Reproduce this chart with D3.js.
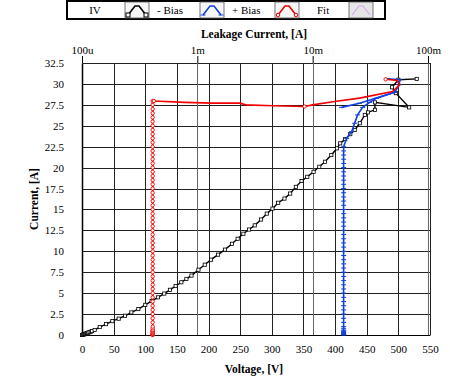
<!DOCTYPE html>
<html>
<head>
<meta charset="utf-8">
<script src="https://cdn.jsdelivr.net/npm/d3@7"></script>
<style>
  body { margin: 0; background: #fff; }
  svg, svg text { font-family: "Liberation Serif", "Times New Roman", serif; }
  svg { display: block; }
</style>
</head>
<body>
<svg width="450" height="380"></svg>
<script>
// IV sweep (bottom axis: voltage)
const ivVolt = [0, 1, 2, 3, 4, 5, 6, 7, 8, 9, 10, 12, 14, 16, 20, 28, 38, 48, 58, 68, 78, 89, 100, 110, 120, 130, 139, 148, 157, 165, 173, 184, 194, 204, 215, 226, 237, 246, 255, 264, 273, 283, 292, 301, 310, 320, 329, 338, 347, 356, 366, 375, 384, 394, 403, 408, 416, 424, 431, 439, 447, 452, 463, 463, 517, 496, 490, 500, 529];
const ivCurr = [0, 0.02, 0.05, 0.08, 0.1, 0.13, 0.16, 0.19, 0.22, 0.25, 0.28, 0.34, 0.4, 0.47, 0.6, 0.95, 1.3, 1.65, 1.95, 2.3, 2.7, 3.1, 3.6, 4.05, 4.5, 4.95, 5.4, 5.85, 6.3, 6.7, 7.1, 7.8, 8.4, 9.0, 9.6, 10.2, 10.9, 11.5, 12.1, 12.6, 13.1, 13.8, 14.5, 15.1, 15.8, 16.3, 16.9, 17.7, 18.4, 18.9, 19.5, 20.1, 20.7, 21.5, 22.3, 22.9, 23.4, 24.0, 24.5, 25.3, 26.3, 26.6, 26.9, 27.8, 27.2, 28.9, 29.6, 30.5, 30.6];

// Fit (top axis: leakage current)
const fitRiseLeak = 4.1e-4;
const fitRiseCurr = [0, 0.05, 0.1, 0.15, 0.2, 0.3, 0.4, 0.5, 0.6, 0.8, 1.0, 1.5, 2.0, 2.5, 3.0, 3.5, 4.0, 4.5, 5.0, 5.5, 6.0, 6.5, 7.0, 7.5, 8.0, 8.5, 9.0, 9.5, 10.0, 10.5, 11.0, 11.5, 12.0, 12.5, 13.0, 13.5, 14.0, 14.5, 15.0, 15.5, 16.0, 16.5, 17.0, 17.5, 18.0, 18.5, 19.0, 19.5, 20.0, 20.5, 21.0, 21.5, 22.0, 22.5, 23.0, 23.5, 24.0, 24.5, 25.0, 25.5, 26.0, 26.5, 27.0, 27.5, 27.96];
const fitTailLeak = [4.2e-4, 7.8e-4, 1.36e-3, 2.33e-3, 2.63e-3, 4.5e-3, 8.5e-3, 1.0e-2, 1.55e-2, 2.55e-2, 4.93e-2, 5.66e-2, 5.4e-2, 4.29e-2];
const fitTailCurr = [27.96, 27.8, 27.7, 27.7, 27.5, 27.4, 27.3, 27.5, 27.9, 28.3, 29.1, 29.9, 30.4, 30.55];
const fitTailMarked = [0, 6, 13];

// + Bias (top axis: leakage current)
const posRiseLeak = 1.855e-2;
const posRiseCurr = [0, 0.05, 0.1, 0.15, 0.2, 0.3, 0.4, 0.5, 0.6, 0.8, 1.0, 1.5, 2.0, 2.5, 3.0, 3.5, 4.0, 4.5, 5.0, 5.5, 6.0, 6.5, 7.0, 7.5, 8.0, 8.5, 9.0, 9.5, 10.0, 10.5, 11.0, 11.5, 12.0, 12.5, 13.0, 13.5, 14.0, 14.5, 15.0, 15.5, 16.0, 16.5, 17.0, 17.5, 18.0, 18.5, 19.0, 19.5, 20.0, 20.5, 21.0, 21.5, 22.0, 22.5];
const posTailLeak = [1.97e-2, 2.18e-2, 2.31e-2, 2.45e-2, 2.71e-2, 3.12e-2, 3.58e-2, 5.13e-2, 5.66e-2, 5.66e-2, 4.46e-2];
const posTailCurr = [23.5, 24.3, 25.3, 26.3, 27.2, 27.8, 28.3, 29.0, 29.9, 30.5, 30.6];
const posBranchLeak = [1.78e-2, 2.55e-2, 5.13e-2];
const posBranchCurr = [27.2, 27.7, 29.0];

const voltTicks = [0, 50, 100, 150, 200, 250, 300, 350, 400, 450, 500, 550];
const currTicks = [0, 2.5, 5, 7.5, 10, 12.5, 15, 17.5, 20, 22.5, 25, 27.5, 30, 32.5];
const leakTicks = [1e-4, 1e-3, 1e-2, 1e-1];
const leakLabels = ["100u", "1m", "10m", "100m"];
const legendNames = ["- Bias", "+ Bias", "Fit", ""];
const legendColors = ["#000", "#1040e0", "#f00000", "#d8a8f0"];

const svg = d3.select("svg");
const pLeft = 82, pRight = 430, pTop = 63, pBottom = 335;

const x = d3.scaleLinear().domain([0, 550]).range([pLeft, pRight]);
const xLog = d3.scaleLog().domain([1e-4, 1e-1]).range([pLeft, 428]);
const y = d3.scaleLinear().domain([0, 32.5]).range([pBottom, pTop]);

// grid
const grid = svg.append("g").attr("stroke", "#222").attr("stroke-width", 1).attr("shape-rendering", "crispEdges");
currTicks.forEach(c => grid.append("line").attr("x1", pLeft).attr("x2", pRight).attr("y1", Math.round(y(c)) + 0.5).attr("y2", Math.round(y(c)) + 0.5));
voltTicks.forEach(v => grid.append("line").attr("x1", Math.round(x(v)) + 0.5).attr("x2", Math.round(x(v)) + 0.5).attr("y1", pTop).attr("y2", pBottom));
leakTicks.forEach(l => grid.append("line").attr("stroke", "#666").attr("x1", Math.round(xLog(l)) + 0.5).attr("x2", Math.round(xLog(l)) + 0.5).attr("y1", pTop).attr("y2", pBottom));

// axes
const xAxis = svg.append("g").attr("transform", `translate(0,${pBottom})`)
  .call(d3.axisBottom(x).tickValues(voltTicks).tickSize(0).tickPadding(10).tickFormat(d3.format("d")));
const yAxis = svg.append("g").attr("transform", `translate(${pLeft},0)`)
  .call(d3.axisLeft(y).tickValues(currTicks).tickSize(0).tickPadding(18).tickFormat(d3.format("~g")));
const topAxis = svg.append("g").attr("transform", `translate(0,${pTop})`)
  .call(d3.axisTop(xLog).tickValues(leakTicks).tickSize(7).tickPadding(2).tickFormat((d, i) => leakLabels[i]));
[xAxis, yAxis, topAxis].forEach(a => {
  a.attr("font-family", null);
  a.select(".domain").attr("stroke", "#000").attr("stroke-width", 1);
  a.selectAll("text").style("font-family", "'Liberation Serif', serif").attr("font-size", 11).attr("fill", "#000");
});
yAxis.select(".domain").attr("stroke-width", 1.5);
topAxis.select(".domain").remove();
topAxis.selectAll(".tick line").attr("stroke", "#000");

svg.append("text").attr("x", 254).attr("y", 373).attr("text-anchor", "middle")
  .attr("font-size", 11.5).attr("font-weight", "bold").text("Voltage, [V]");
svg.append("text").attr("x", 254).attr("y", 38).attr("text-anchor", "middle")
  .attr("font-size", 11.5).attr("font-weight", "bold").text("Leakage Current, [A]");
svg.append("text").attr("transform", `translate(38,${(pTop + pBottom) / 2}) rotate(-90)`).attr("text-anchor", "middle")
  .attr("font-size", 11.5).attr("font-weight", "bold").text("Current, [A]");

// series
const plot = svg.append("g");
const lineGen = d3.line().x(d => d[0]).y(d => d[1]);

const ivPts = ivVolt.map((v, i) => [x(v), y(ivCurr[i])]);
const fitPts = fitRiseCurr.map(c => [xLog(fitRiseLeak), y(c)])
  .concat(fitTailLeak.map((l, i) => [xLog(l), y(fitTailCurr[i])]));
const posPts = posRiseCurr.map(c => [xLog(posRiseLeak), y(c)])
  .concat(posTailLeak.map((l, i) => [xLog(l), y(posTailCurr[i])]));
const posBranch = posBranchLeak.map((l, i) => [xLog(l), y(posBranchCurr[i])]);

plot.append("path").attr("d", lineGen(ivPts)).attr("fill", "none").attr("stroke", "#000").attr("stroke-width", 1.4);
plot.selectAll(".sq").data(ivPts).join("rect")
  .attr("x", d => d[0] - 1.6).attr("y", d => d[1] - 1.6).attr("width", 3.2).attr("height", 3.2)
  .attr("fill", "#fff").attr("stroke", "#000").attr("stroke-width", 0.8);

plot.append("path").attr("d", lineGen(posPts)).attr("fill", "none").attr("stroke", legendColors[1]).attr("stroke-width", 1.6);
plot.append("path").attr("d", lineGen(posBranch)).attr("fill", "none").attr("stroke", legendColors[1]).attr("stroke-width", 1.6);
plot.selectAll(".pb").data(posPts.concat(posBranch)).join("line")
  .attr("x1", d => d[0] - 2.5).attr("x2", d => d[0] + 2.5).attr("y1", d => d[1]).attr("y2", d => d[1])
  .attr("stroke", legendColors[1]).attr("stroke-width", 1);

plot.append("path").attr("d", lineGen(fitPts)).attr("fill", "none").attr("stroke", legendColors[2]).attr("stroke-width", 1.6);
const fitMarks = fitRiseCurr.map(c => [xLog(fitRiseLeak), y(c)])
  .concat(fitTailMarked.map(i => [xLog(fitTailLeak[i]), y(fitTailCurr[i])]));
plot.selectAll(".fc").data(fitMarks).join("circle")
  .attr("cx", d => d[0]).attr("cy", d => d[1]).attr("r", 1.7)
  .attr("fill", "#fff").attr("stroke", legendColors[2]).attr("stroke-width", 0.9);

// legend
const lg = svg.append("g");
lg.append("rect").attr("x", 67).attr("y", 1).attr("width", 318).attr("height", 18)
  .attr("fill", "#fff").attr("stroke", "#000").attr("stroke-width", 2);
lg.append("text").attr("x", 95).attr("y", 14).attr("text-anchor", "middle").attr("font-size", 11).text("IV");
const cellX = [125, 200, 275, 349];
cellX.forEach((cx, i) => {
  lg.append("rect").attr("x", cx).attr("y", 2).attr("width", 24).attr("height", 16)
    .attr("fill", i === 3 ? "#e6e6e6" : "#f6f6f6").attr("stroke", "#555").attr("stroke-width", 0.8);
  const chev = [[cx + 3, 15], [cx + 10, 6], [cx + 14, 6], [cx + 21, 15]];
  lg.append("path").attr("d", lineGen(chev)).attr("fill", "none")
    .attr("stroke", legendColors[i]).attr("stroke-width", i === 3 ? 1.2 : 1.6);
  if (i < 3) {
    [chev[0], chev[3]].forEach(p => {
      if (i === 0) lg.append("rect").attr("x", p[0] - 2).attr("y", p[1] - 2).attr("width", 4).attr("height", 4)
        .attr("fill", "#fff").attr("stroke", "#000");
      if (i === 1) lg.append("line").attr("x1", p[0] - 2.5).attr("x2", p[0] + 2.5).attr("y1", p[1]).attr("y2", p[1])
        .attr("stroke", legendColors[1]);
      if (i === 2) lg.append("circle").attr("cx", p[0]).attr("cy", p[1]).attr("r", 1.8)
        .attr("fill", "#fff").attr("stroke", legendColors[2]);
    });
    lg.append("text").attr("x", cx + 26 + (i === 2 ? 16 : 6)).attr("y", 14).attr("font-size", 11).text(legendNames[i]);
  }
});
</script>
</body>
</html>
